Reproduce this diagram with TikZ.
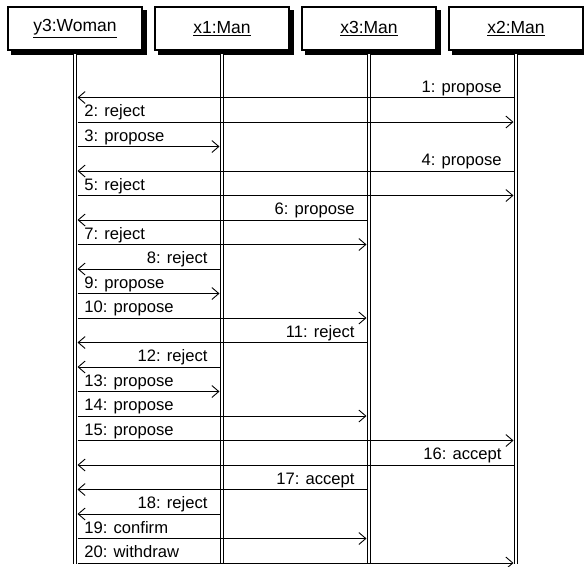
\documentclass[tikz,border=0pt]{standalone}
\usepackage{fontspec}
\setmainfont{Liberation Sans}
\usepackage{tikz}
\usetikzlibrary{positioning, arrows.meta}

\tikzset{
  obj/.style={draw, line width=1.4pt, fill=white, outer sep=0pt,
    minimum width=134pt, minimum height=43pt,
    font=\fontsize{17.5}{20}\selectfont},
  objshadow/.style={obj, fill=black},
  life/.style={double, double distance=2.4pt, line width=0.9pt},
  msg/.style={-{Straight Barb[length=7pt, width=12pt]}, line width=0.9pt,
    shorten >=2.5pt, shorten <=2.5pt},
  lblR/.style={pos=0, anchor=base west, xshift=9pt, yshift=5.5pt, inner sep=0pt},
  lblL/.style={pos=0, anchor=base east, xshift=-14pt, yshift=5.5pt, inner sep=0pt}
}

\begin{document}
\begin{tikzpicture}[x=1pt, y=-1pt, node distance=13pt,
    font=\fontsize{16.6}{19}\selectfont]

    \useasboundingbox (0,0) rectangle (584,566);

    % 1. Shadows, then objects: y3, x1, x3, x2
    \node[objshadow] (y3sh) at (79,32.5) {};
    \node[objshadow] (x1sh) [right=of y3sh] {};
    \node[objshadow] (x3sh) [right=of x1sh] {};
    \node[objshadow] (x2sh) [right=of x3sh] {};

    \node[obj] (y3) at ([shift={(-4,-4)}]y3sh.center) {\underline{y3:Woman}};
    \node[obj] (x1) at ([shift={(-4,-4)}]x1sh.center) {\underline{x1:Man}};
    \node[obj] (x3) at ([shift={(-4,-4)}]x3sh.center) {\underline{x3:Man}};
    \node[obj] (x2) at ([shift={(-4,-4)}]x2sh.center) {\underline{x2:Man}};

    % 2. Lifelines
    \coordinate (y3end) at (y3 |- 0,564);
    \coordinate (x1end) at (x1 |- 0,564);
    \coordinate (x3end) at (x3 |- 0,564);
    \coordinate (x2end) at (x2 |- 0,564);
    \draw[life] (y3 |- y3sh.south) -- (y3end);
    \draw[life] (x1 |- x1sh.south) -- (x1end);
    \draw[life] (x3 |- x3sh.south) -- (x3end);
    \draw[life] (x2 |- x2sh.south) -- (x2end);

    % 3. Messages 1-7
    \draw[msg] (x2 |- 0,97.5) -- (y3 |- 0,97.5) node[lblL] {1: propose};
    \draw[msg] (y3 |- 0,122) -- (x2 |- 0,122) node[lblR] {2: reject};
    \draw[msg] (y3 |- 0,146.5) -- (x1 |- 0,146.5) node[lblR] {3: propose};
    \draw[msg] (x2 |- 0,171) -- (y3 |- 0,171) node[lblL] {4: propose};
    \draw[msg] (y3 |- 0,195.5) -- (x2 |- 0,195.5) node[lblR] {5: reject};
    \draw[msg] (x3 |- 0,220) -- (y3 |- 0,220) node[lblL] {6: propose};
    \draw[msg] (y3 |- 0,244.5) -- (x3 |- 0,244.5) node[lblR] {7: reject};

    % 4. Messages 8-14
    \draw[msg] (x1 |- 0,269) -- (y3 |- 0,269) node[lblL] {8: reject};
    \draw[msg] (y3 |- 0,293.5) -- (x1 |- 0,293.5) node[lblR] {9: propose};
    \draw[msg] (y3 |- 0,318) -- (x3 |- 0,318) node[lblR] {10: propose};
    \draw[msg] (x3 |- 0,342.5) -- (y3 |- 0,342.5) node[lblL] {11: reject};
    \draw[msg] (x1 |- 0,367) -- (y3 |- 0,367) node[lblL] {12: reject};
    \draw[msg] (y3 |- 0,391.5) -- (x1 |- 0,391.5) node[lblR] {13: propose};
    \draw[msg] (y3 |- 0,416) -- (x3 |- 0,416) node[lblR] {14: propose};

    % 5. Messages 15-20
    \draw[msg] (y3 |- 0,440.5) -- (x2 |- 0,440.5) node[lblR] {15: propose};
    \draw[msg] (x2 |- 0,465) -- (y3 |- 0,465) node[lblL] {16: accept};
    \draw[msg] (x3 |- 0,489.5) -- (y3 |- 0,489.5) node[lblL] {17: accept};
    \draw[msg] (x1 |- 0,514) -- (y3 |- 0,514) node[lblL] {18: reject};
    \draw[msg] (y3 |- 0,538.5) -- (x3 |- 0,538.5) node[lblR] {19: confirm};
    \draw[msg] (y3 |- 0,563) -- (x2 |- 0,563) node[lblR] {20: withdraw};
\end{tikzpicture}
\end{document}
